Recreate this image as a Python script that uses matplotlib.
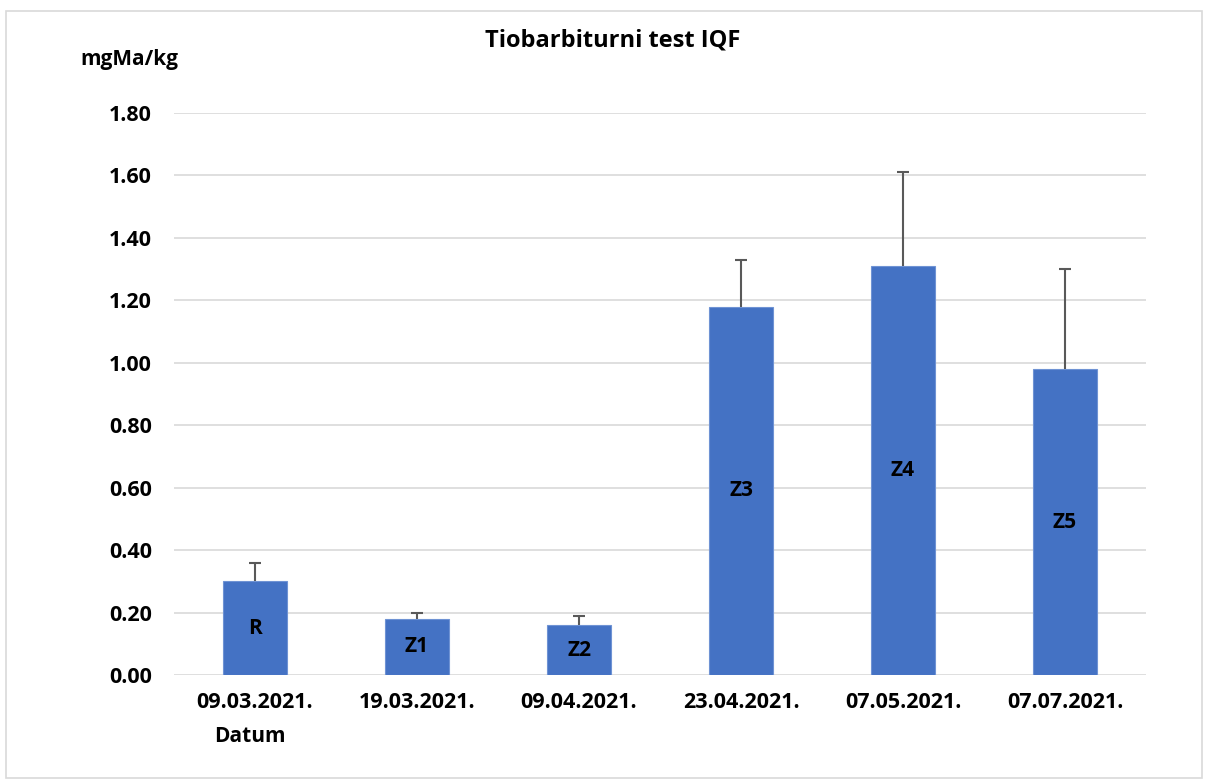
import matplotlib
matplotlib.use("Agg")
import matplotlib.pyplot as plt
from matplotlib.patches import Rectangle

dates = ["09.03.2021.", "19.03.2021.", "09.04.2021.", "23.04.2021.", "07.05.2021.", "07.07.2021."]
labels = ["R", "Z1", "Z2", "Z3", "Z4", "Z5"]
values = [0.30, 0.18, 0.16, 1.18, 1.31, 0.98]
errors = [0.06, 0.02, 0.03, 0.15, 0.30, 0.32]
yticks = [0.0, 0.2, 0.4, 0.6, 0.8, 1.0, 1.2, 1.4, 1.6, 1.8]

plt.rcParams['font.family'] = ['Open Sans', 'DejaVu Sans']

W, H = 1206, 782
fig = plt.figure(figsize=(W/100, H/100), dpi=100)
fig.patches.append(Rectangle((6/W, 1-778/H), (1202-6)/W, (778-11)/H, transform=fig.transFigure,
                             fill=False, edgecolor='#D9D9D9', linewidth=1.2))
ax = fig.add_axes([174/W, 1-675/H, (1146-174)/W, (675-113)/H])

x = list(range(len(dates)))
ax.bar(x, values, width=0.4, color='#4472C4', edgecolor='#6F93D4', linewidth=0.8, zorder=3)
tops = [v + e for v, e in zip(values, errors)]
ax.vlines(x, values, tops, color='#595959', linewidth=1.5, zorder=4)
ax.plot(x, tops, linestyle='none', marker='_', markersize=8, markeredgewidth=1.5, color='#595959', zorder=4)
for xi, v, lab in zip(x, values, labels):
    ax.text(xi, v/2, lab, ha='center', va='center', fontsize=15, fontweight='bold', color='black', zorder=5)

ax.set_xlim(-0.5, len(dates)-0.5)
ax.set_ylim(0, 1.8)
ax.set_yticks(yticks)
ax.set_yticklabels([f"{t:.2f}" for t in yticks], fontsize=15.5, fontweight='bold')
ax.set_xticks(x)
ax.set_xticklabels(dates, fontsize=15.5, fontweight='bold')
ax.tick_params(axis='both', length=0)
ax.tick_params(axis='y', pad=16)
ax.tick_params(axis='x', pad=12)
ax.grid(axis='y', color='#D9D9D9', linewidth=1.2, zorder=0)
for s in ax.spines.values():
    s.set_visible(False)

fig.text(613/W, 1-40/H, "Tiobarbiturni test IQF", ha='center', va='center', fontsize=17, fontweight='bold')
fig.text(129/W, 1-60/H, "mgMa/kg", ha='center', va='center', fontsize=15, fontweight='bold')
fig.text(250/W, 1-737/H, "Datum", ha='center', va='center', fontsize=15, fontweight='bold')

fig.savefig("out.png", dpi=100)
